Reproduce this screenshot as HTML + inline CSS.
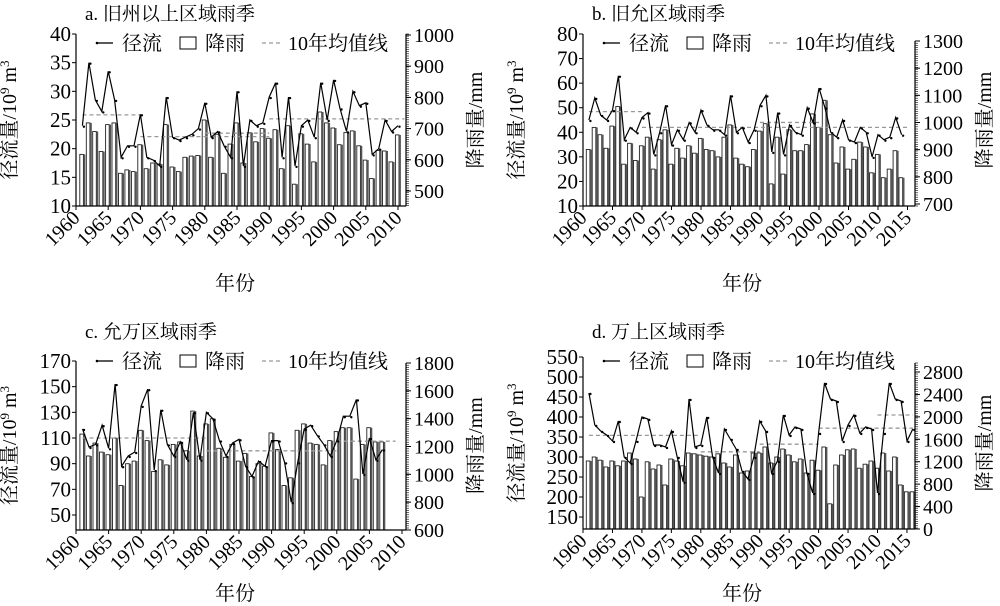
<!DOCTYPE html>
<html><head><meta charset="utf-8"><style>
html,body{margin:0;padding:0;background:#fff;width:1000px;height:606px;overflow:hidden}
svg text{font-family:"Liberation Serif","Noto Serif CJK SC","Noto Sans CJK SC",serif;fill:#000}
</style></head><body>
<svg id="s" width="1000" height="606" xmlns="http://www.w3.org/2000/svg"></svg>
<script>
var S=document.getElementById('s'),h='';
function P(c){
 var X=function(Y){return c.x0+(Y-1960)*c.dx};
 var L=c.L, R=c.R;
 c.rain.forEach(function(v,i){var Y=1961+i,x=X(Y),y=L(v);
  h+='<rect x="'+(x-2.6).toFixed(1)+'" y="'+y.toFixed(1)+'" width="3.6" height="'+(c.yB-y).toFixed(1)+'" fill="#fff" stroke="#222" stroke-width="0.9"/>';
  h+='<rect x="'+(x+1).toFixed(1)+'" y="'+y.toFixed(1)+'" width="1.9" height="'+(c.yB-y).toFixed(1)+'" fill="#555"/>';});
 c.mean.forEach(function(m){h+='<line x1="'+X(m[0])+'" x2="'+X(m[1])+'" y1="'+L(m[2])+'" y2="'+L(m[2])+'" stroke="#999" stroke-width="1.3" stroke-dasharray="4,3"/>';});
 var p=c.run.map(function(v,i){return X(1961+i).toFixed(1)+','+L(v).toFixed(1)}).join(' ');
 h+='<polyline points="'+p+'" fill="none" stroke="#000" stroke-width="1.2"/>';
 c.run.forEach(function(v,i){h+='<circle cx="'+(X(1961+i)+1.5).toFixed(1)+'" cy="'+(L(v)+1).toFixed(1)+'" r="1.2" fill="#000"/>';});
 h+='<line x1="'+c.xL+'" x2="'+c.xL+'" y1="'+c.yT+'" y2="'+c.yB+'" stroke="#000" stroke-width="1.2"/>';
 h+='<line x1="'+c.xL+'" x2="'+c.xR+'" y1="'+c.yB+'" y2="'+c.yB+'" stroke="#000" stroke-width="1.2"/>';
 h+='<line x1="'+c.xR+'" x2="'+c.xR+'" y1="'+c.rT+'" y2="'+c.yB+'" stroke="#000" stroke-width="1.2"/>';
 c.lt.forEach(function(v){var y=L(v);h+='<line x1="'+(c.xL-4)+'" x2="'+c.xL+'" y1="'+y+'" y2="'+y+'" stroke="#000"/><text x="'+(c.xL-5)+'" y="'+(y+7)+'" font-size="21" text-anchor="end">'+v+'</text>';});
 for(var y=c.rT;y<c.yB;y+=2.2)h+='<line x1="'+c.xR+'" x2="'+(c.xR+3)+'" y1="'+y.toFixed(1)+'" y2="'+y.toFixed(1)+'" stroke="#000" stroke-width="0.6"/>';
 c.rt.forEach(function(v){var y=R(v);h+='<line x1="'+c.xR+'" x2="'+(c.xR+5)+'" y1="'+y+'" y2="'+y+'" stroke="#000"/><text x="'+(c.xR+8)+'" y="'+(y+7)+'" font-size="20">'+v+'</text>';});
 for(var Y=1960;Y<=c.yMax;Y+=5){var x=X(Y);h+='<line x1="'+x+'" x2="'+x+'" y1="'+c.yB+'" y2="'+(c.yB+4)+'" stroke="#000"/><text transform="translate('+(x+5)+','+(c.yB+13)+') rotate(-45)" font-size="20" text-anchor="end">'+Y+'</text>';}
 h+='<text x="'+(c.xL+9)+'" y="'+c.tY+'" font-size="19">'+c.title+'</text>';
 var ly=c.lY;
 h+='<line x1="'+(c.xL+21)+'" x2="'+(c.xL+37)+'" y1="'+ly+'" y2="'+ly+'" stroke="#000" stroke-width="1.3"/><circle cx="'+(c.xL+21)+'" cy="'+ly+'" r="1.3"/>';
 h+='<text x="'+(c.xL+46)+'" y="'+(ly+7)+'" font-size="20">径流</text>';
 h+='<rect x="'+(c.xL+104)+'" y="'+(ly-6)+'" width="16" height="12" fill="#fff" stroke="#000"/>';
 h+='<text x="'+(c.xL+129)+'" y="'+(ly+7)+'" font-size="20">降雨</text>';
 h+='<line x1="'+(c.xL+186)+'" x2="'+(c.xL+206)+'" y1="'+ly+'" y2="'+ly+'" stroke="#999" stroke-width="1.3" stroke-dasharray="4,3"/>';
 h+='<text x="'+(c.xL+212)+'" y="'+(ly+7)+'" font-size="20">10年均值线</text>';
 var my=(c.yT+c.yB)/2;
 h+='<text transform="translate('+(c.xL-60)+','+my+') rotate(-90)" font-size="20" text-anchor="middle">径流量/10<tspan font-size="13" dy="-7">9</tspan><tspan dy="7"> m</tspan><tspan font-size="13" dy="-7">3</tspan></text>';
 h+='<text transform="translate('+(c.xR+76)+','+my+') rotate(-90)" font-size="20" text-anchor="middle">降雨量/mm</text>';
 h+='<text x="'+(c.xL+159)+'" y="'+(c.yB+c.nY)+'" font-size="20" text-anchor="middle">年份</text>';
}
P({xL:76,xR:406,yT:34,rT:34,yB:206,x0:76,dx:6.44,yMax:2010,tY:20,lY:43,nY:84,title:'a. 旧州以上区域雨季',
 L:function(v){return 206-(v-10)*172/30},R:function(v){return 35+(1000-v)*0.312},
 lt:[40,35,30,25,20,15,10],rt:[1000,900,800,700,600,500],
 run:[24,35,28.5,26.5,33.5,28.5,18.5,20.5,20.5,26,18.5,18,17,29,22,21.5,22,22.5,23.5,28,22,23,20.5,18.5,30,17,25,24,24.5,29,31.5,18.5,29,17,24,25,22,31.5,25,32,27,23,30,27.5,28,19,20,25,23,24],
 rain:[19,24.5,23,19.5,24.2,24.5,15.7,16.3,16,20.7,16.5,17.5,17.3,24.2,16.8,16,18.5,18.7,18.8,25,18.5,22.5,15.7,20.8,24.5,17.5,22.8,21.2,23.5,21.8,23.3,16.5,24,13.8,22.6,20.8,17.7,26.4,24.5,23.6,20.7,22.8,23.1,20.5,18,14.8,19.7,19.6,17.7,22.4],
 mean:[[1961,1970,25.9],[1970,1990,22.1],[1980,1990,22.7],[1990,2011,25.2]]});
P({xL:583,xR:915,yT:34,rT:41,yB:206,x0:583,dx:5.9,yMax:2015,tY:20,lY:43,nY:84,title:'b. 旧允区域雨季',
 L:function(v){return 206-(v-10)*172/70},R:function(v){return 41+(1300-v)*163/600},
 lt:[80,70,60,50,40,30,20,10],rt:[1300,1200,1100,1000,900,800,700],
 run:[45,54,47,45,49,63,37,42,40,46,48,31,40,51,35,41,37,44,40,49,43,41,41,39,55,40,42,36,41,51,55,32,48,31,43,40,39,50,44,58,50,40,38,45,37,36,42,40,30,39,37,38,46,39],
 rain:[33,42,39,33.5,42.5,50.5,27,35.5,28.5,34.5,38,25,37,41,27,33.5,29.5,34.5,31.5,37.5,33,32.5,30,38,43,29.5,27,26,33,40.5,43.5,19,38,23,41,32.5,32.5,35,47.5,42,53,39,27.5,34,25,29,36,34,23.5,31,21.5,25,32.5,21.5],
 mean:[[1961,1970,48.4],[1970,2000,42],[1990,2000,44],[2000,2015,42]]});
P({xL:76,xR:406,yT:361,rT:363,yB:530,x0:76,dx:6.52,yMax:2010,tY:338,lY:361,nY:70,title:'c. 允万区域雨季',
 L:function(v){return 361+(170-v)*154/120},R:function(v){return 363+(1800-v)*167/1200},
 lt:[170,150,130,110,90,70,50],rt:[1800,1600,1400,1200,1000,800,600],
 run:[117,103,105,120,102,152,88,96,99,135,148,85,132,105,96,107,93,130,93,130,125,108,96,106,109,88,80,92,88,108,108,91,60,91,117,120,112,105,96,108,127,127,140,82,110,93,101],
 rain:[113,96,106,99,97,110,73,90,92,116,108,84,93,89,105,107,100,131,96,121,125,102,95,105,92,98,80,90,88,114,101,73,79,116,121,106,105,89,108,115,118,118,78,105,118,107,107],
 mean:[[1961,1980,110],[1980,2000,100],[2000,2009,107.5]]});
P({xL:583,xR:915,yT:357,rT:363,yB:529,x0:583,dx:5.89,yMax:2015,tY:338,lY:361,nY:71,title:'d. 万上区域雨季',
 L:function(v){return 357+(550-v)*160/400},R:function(v){return 372+(2800-v)*157/2800},
 lt:[550,500,450,400,350,300,250,200,150],rt:[2800,2400,2000,1600,1200,800,400,0],
 run:[460,380,365,355,340,390,300,285,340,400,395,330,330,325,365,300,238,445,325,330,400,300,260,370,345,320,265,245,300,390,365,260,290,405,355,375,370,260,210,360,485,445,440,340,380,405,360,375,370,210,360,485,445,440,340,370],
 rain:[290,300,292,275,290,278,290,310,295,200,288,270,280,230,295,290,278,310,308,305,302,300,308,285,275,305,260,265,310,310,325,285,300,320,305,288,295,260,292,267,325,183,280,305,318,320,272,282,290,272,310,265,300,230,213,213],
 mean:[[1961,1980,354],[1980,1990,313],[1990,2000,332],[2000,2016,372],[2010,2016,405]]});
S.innerHTML=h;
</script>
</body></html>
